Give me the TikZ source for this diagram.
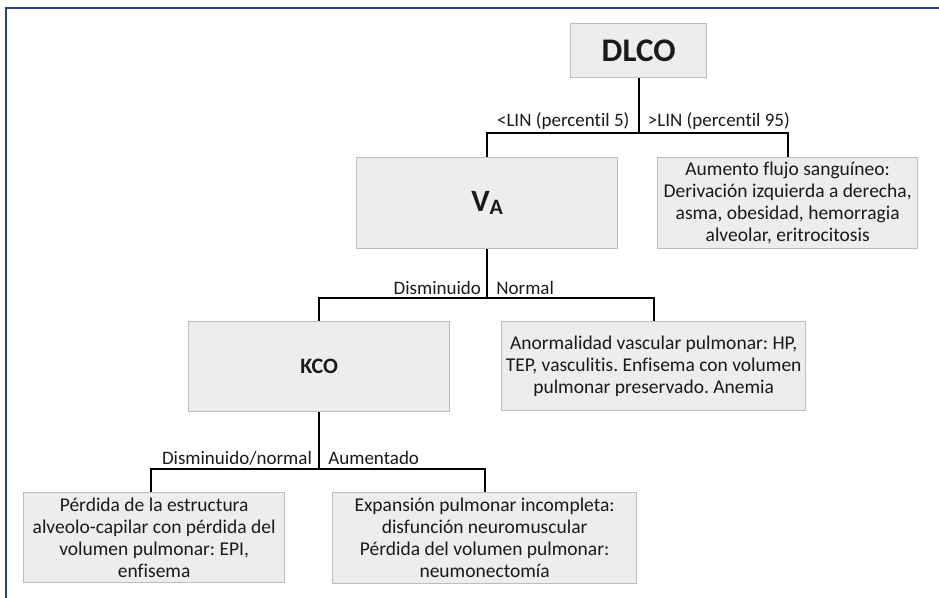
\documentclass[tikz,border=0pt]{standalone}
\usepackage{fontspec}
\setmainfont{Carlito}[Ligatures=CommonOff]
\usetikzlibrary{calc}
\definecolor{boxfill}{HTML}{EDEDED}
\definecolor{boxline}{HTML}{BDBDBD}
\definecolor{frameblue}{HTML}{2B3F8F}
\definecolor{txt}{HTML}{1A1A1A}
\tikzset{
  x=1pt, y=-1pt,
  box/.style={draw=boxline, line width=1.3pt, fill=boxfill, text=txt,
    align=center, inner sep=0pt, anchor=north west,
    font=\fontsize{19.5}{22}\selectfont\frenchspacing},
  link/.style={draw=black, line width=1.8pt},
  lbl/.style={text=txt, inner sep=0pt, font=\fontsize{19}{21}\selectfont},
}
\newcommand{\boxat}[6]{% name, x0, y0, x1, y1, text
  \node[box, minimum width=#4-#2, minimum height=#5-#3] (#1) at (#2,#3) {#6};}
\begin{document}
\begin{tikzpicture}
\useasboundingbox (0,0) rectangle (939,597);
\fill[white] (0,0) rectangle (939,597);
% outer frame (top and left edges)
\draw[frameblue, line width=2.6pt] (6,599) -- (6,8) -- (941,8);

% boxes
\boxat{dlco}{570}{23}{706}{77}{\fontsize{33}{34}\selectfont\bfseries DLCO}
\boxat{va}{356}{157}{617}{248}{\bfseries\fontsize{31}{32}\selectfont V\raisebox{-3pt}{\fontsize{22}{24}\selectfont A}}
\boxat{hi}{657}{157}{917}{248}{Aumento flujo sanguíneo:\\Derivación izquierda a derecha,\\asma, obesidad, hemorragia\\alveolar, eritrocitosis}
\boxat{kco}{188}{321}{449}{411}{\fontsize{22}{24}\selectfont\bfseries KCO}
\boxat{vasc}{501}{321}{805}{410}{Anormalidad vascular pulmonar: HP,\\TEP, vasculitis. Enfisema con volumen\\pulmonar preservado. Anemia}
\boxat{loss}{23}{492}{284}{582}{Pérdida de la estructura\\alveolo-capilar con pérdida del\\volumen pulmonar: EPI,\\enfisema}
\boxat{exp}{332}{492}{636}{583}{Expansión pulmonar incompleta:\\disfunción neuromuscular\\Pérdida del volumen pulmonar:\\neumonectomía}

% branch points
\coordinate (j1) at ($(dlco.south)+(0,55)$);
\coordinate (j2) at ($(va.south)+(0,49)$);
\coordinate (j3) at ($(kco.south)+(0,57)$);
\coordinate (lossIn) at ($(loss.north)+(-3.5,0)$);

% connectors
\draw[link] (dlco.south) -- (j1);
\draw[link] (va.north) |- (j1) -| (hi.north);
\draw[link] (va.south) -- (j2);
\draw[link] (kco.north) |- (j2) -| (vasc.north);
\draw[link] (kco.south) -- (j3);
\draw[link] (lossIn) |- (j3) -| (exp.north);

% branch labels
\node[lbl, anchor=base east] (l1) at ($(j1)+(-9,-7)$) {<LIN (percentil 5)};
\node[lbl, anchor=base west] (r1) at ($(j1)+(9,-7)$) {>LIN (percentil 95)};
\node[lbl, anchor=base east] (l2) at ($(j2)+(-6,-4)$) {Disminuido};
\node[lbl, anchor=base west] (r2) at ($(j2)+(9,-4)$) {Normal};
\node[lbl, anchor=base east] (l3) at ($(j3)+(-7,-5)$) {Disminuido/normal};
\node[lbl, anchor=base west] (r3) at ($(j3)+(9,-5)$) {Aumentado};
\end{tikzpicture}
\end{document}
